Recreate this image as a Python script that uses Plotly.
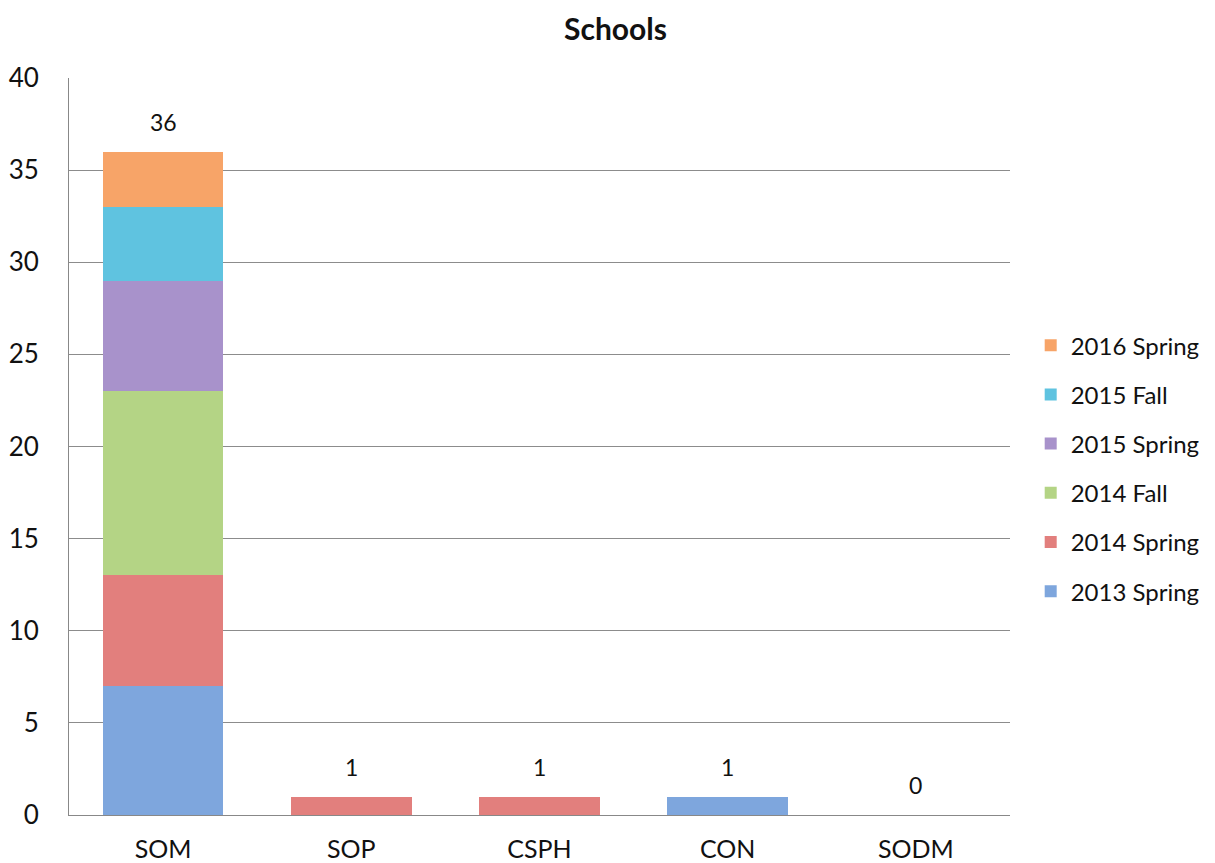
import plotly.graph_objects as go

categories = ["SOM", "SOP", "CSPH", "CON", "SODM"]
series_names = ["2013 Spring", "2014 Spring", "2014 Fall", "2015 Spring", "2015 Fall", "2016 Spring"]
s2013_spring = [7, 0, 0, 1, 0]
s2014_spring = [6, 1, 1, 0, 0]
s2014_fall = [10, 0, 0, 0, 0]
s2015_spring = [6, 0, 0, 0, 0]
s2015_fall = [4, 0, 0, 0, 0]
s2016_spring = [3, 0, 0, 0, 0]
y_ticks = [0, 5, 10, 15, 20, 25, 30, 35, 40]

series_values = [s2013_spring, s2014_spring, s2014_fall, s2015_spring, s2015_fall, s2016_spring]
colors = ["#7ea6dd", "#e27f7d", "#b4d485", "#a892cb", "#5fc3e0", "#f7a468"]

FONT = "Lato, 'Open Sans', sans-serif"

fig = go.Figure()
n = len(series_names)
for i, (name, vals, c) in enumerate(zip(series_names, series_values, colors)):
    fig.add_trace(go.Bar(
        x=categories, y=vals, name=name,
        marker=dict(color=c, line=dict(width=0)),
        legendgroup=name, legendrank=n - i,
    ))

totals = [sum(v[i] for v in series_values) for i in range(len(categories))]
for cat, tot in zip(categories, totals):
    fig.add_annotation(x=cat, y=tot, text=str(tot), showarrow=False,
                       yanchor="bottom", yshift=14,
                       font=dict(family=FONT, size=23, color="#111111"))

fig.update_layout(
    width=1215, height=863,
    barmode="stack", bargap=0.36,
    plot_bgcolor="white", paper_bgcolor="white",
    margin=dict(l=61, r=213, t=70, b=56, autoexpand=False),
    title=dict(text="<b>Schools</b>", x=0.5, xref="container", xanchor="center",
               y=0.975, yanchor="middle",
               font=dict(family=FONT, size=30, color="#111111")),
    xaxis=dict(showline=True, linecolor="#888888", linewidth=1, ticks="",
               ticklabelstandoff=12, automargin=False,
               tickfont=dict(family=FONT, size=25, color="#111111"), showgrid=False),
    yaxis=dict(range=[0, 40], tickvals=y_ticks, showline=True, linecolor="#888888", linewidth=1,
               gridcolor="#8c8c8c", gridwidth=1, zeroline=False, ticks="",
               ticklabelstandoff=24, automargin=False,
               tickfont=dict(family=FONT, size=26, color="#111111")),
    legend=dict(x=1.022, xanchor="left", y=0.47, yanchor="middle", traceorder="grouped",
                tracegroupgap=15, itemwidth=30,
                font=dict(family=FONT, size=24, color="#111111")),
)

fig.write_html("out.html")
